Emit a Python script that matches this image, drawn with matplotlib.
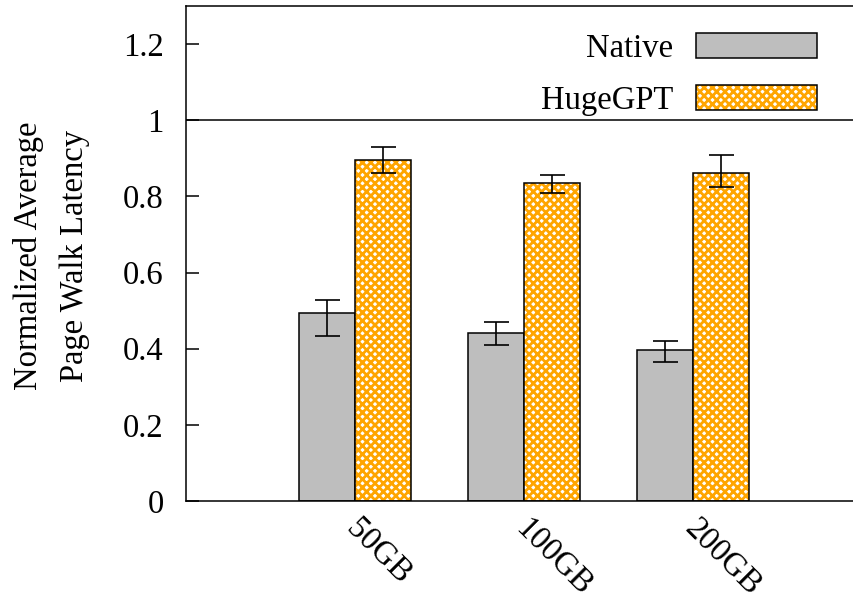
import numpy as np
import matplotlib.pyplot as plt
from matplotlib.transforms import ScaledTranslation

plt.rcParams['font.family'] = ['Liberation Serif', 'DejaVu Serif']
plt.rcParams['hatch.linewidth'] = 2.0

# Latence moyenne normalisée et barres d'erreur (bas / haut)
tailles = ['50GB', '100GB', '200GB']
native = [0.494, 0.441, 0.396]
native_bas = [0.433, 0.410, 0.365]
native_haut = [0.528, 0.469, 0.420]
hugegpt = [0.896, 0.835, 0.861]
hugegpt_bas = [0.861, 0.809, 0.824]
hugegpt_haut = [0.930, 0.857, 0.908]

x = np.arange(len(tailles))
largeur = 0.33
taille_police = 23.5

fig = plt.figure(figsize=(8.54, 6), dpi=100)
ax = fig.add_axes([0.2178, 0.165, 0.7916, 0.825])

# Native : barres grises pleines
b1 = ax.bar(x - largeur / 2, native, largeur, color='#bebebe',
            edgecolor='black', linewidth=1.1, zorder=2)
ax.errorbar(x - largeur / 2, native,
            yerr=[np.subtract(native, native_bas), np.subtract(native_haut, native)],
            fmt='none', ecolor='black', elinewidth=1.2, capsize=9, capthick=1.2, zorder=4)

# HugeGPT : motif orange croisé sur fond blanc, contour noir par-dessus
h_fond = ax.bar(x + largeur / 2, hugegpt, largeur, color='white',
                edgecolor='#ffa500', hatch='xxxx', linewidth=0, zorder=2)
h_bord = ax.bar(x + largeur / 2, hugegpt, largeur, fill=False,
                edgecolor='black', linewidth=1.1, zorder=3)
ax.errorbar(x + largeur / 2, hugegpt,
            yerr=[np.subtract(hugegpt, hugegpt_bas), np.subtract(hugegpt_haut, hugegpt)],
            fmt='none', ecolor='black', elinewidth=1.2, capsize=9, capthick=1.2, zorder=4)

ax.axhline(1.0, color='black', linewidth=1.1, zorder=1)

ax.set_xlim(-1, 3)
ax.set_ylim(0, 1.3)
ax.set_yticks([0, 0.2, 0.4, 0.6, 0.8, 1.0, 1.2])
ax.set_yticklabels(['0', '0.2', '0.4', '0.6', '0.8', '1', '1.2'])
ax.tick_params(axis='y', direction='in', length=9, width=1.1,
               labelsize=taille_police, pad=16)
ax.tick_params(axis='x', length=0, labelsize=taille_police, pad=8)
ax.set_xticks(x)
ax.set_xticklabels(tailles, rotation=-45, ha='left', va='center',
                   rotation_mode='anchor')
decalage = ScaledTranslation(-4 / 100, -12 / 100, fig.dpi_scale_trans)
for lab in ax.get_xticklabels():
    lab.set_transform(lab.get_transform() + decalage)

for cote in ['left', 'bottom', 'top']:
    ax.spines[cote].set_linewidth(1.1)
ax.spines['right'].set_visible(False)

ax.set_ylabel('Normalized Average\nPage Walk Latency', fontsize=taille_police,
              linespacing=1.65, va='center')
ax.yaxis.set_label_coords(-0.199, 0.495)

ax.legend([b1, (h_fond, h_bord)], ['Native', 'HugeGPT'], loc='center right',
          bbox_to_anchor=(0.933, 0.862), frameon=False, fontsize=taille_police,
          markerfirst=False, handlelength=3.7, handleheight=0.8,
          handletextpad=0.7, labelspacing=0.65, borderpad=0, borderaxespad=0)

plt.savefig('out.png', dpi=100)
